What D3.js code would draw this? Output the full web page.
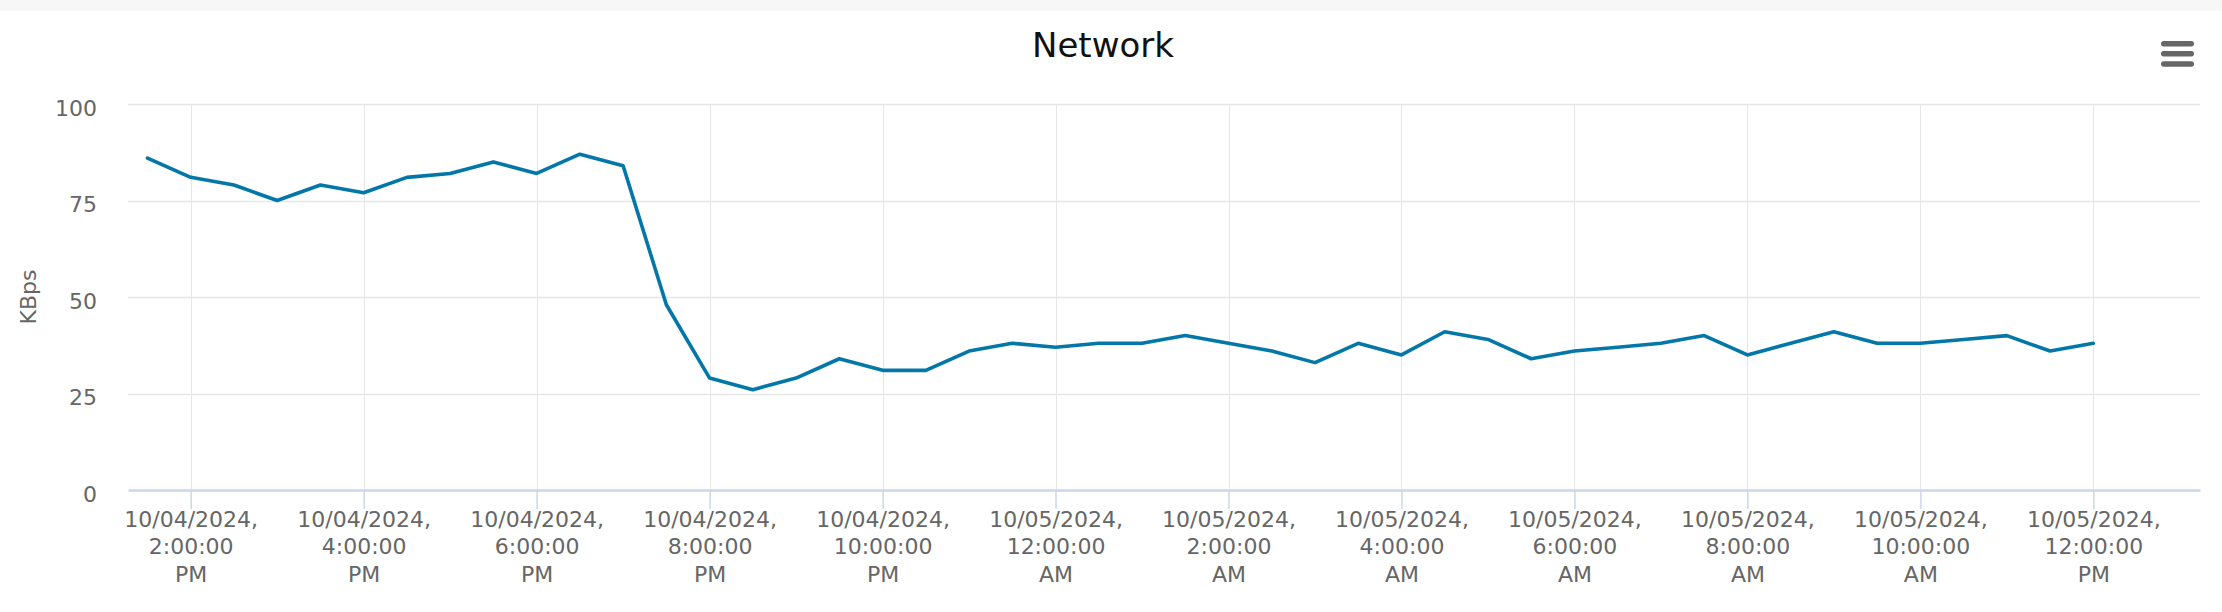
<!DOCTYPE html>
<html>
<head>
<meta charset="utf-8">
<script src="https://cdn.jsdelivr.net/npm/d3@7"></script>
<style>
  html, body { margin: 0; padding: 0; background: #ffffff; }
  svg { display: block; }
  text { font-family: "DejaVu Sans", "Lucida Grande", sans-serif; }
</style>
</head>
<body>
<svg id="chart" width="2222" height="612"></svg>
<script>
// ---- data ----
const chartTitle = "Network";
const yAxisTitle = "KBps";
const times = [
  "2024-10-04T13:30","2024-10-04T14:00","2024-10-04T14:30","2024-10-04T15:00","2024-10-04T15:30",
  "2024-10-04T16:00","2024-10-04T16:30","2024-10-04T17:00","2024-10-04T17:30","2024-10-04T18:00",
  "2024-10-04T18:30","2024-10-04T19:00","2024-10-04T19:30","2024-10-04T20:00","2024-10-04T20:30",
  "2024-10-04T21:00","2024-10-04T21:30","2024-10-04T22:00","2024-10-04T22:30","2024-10-04T23:00",
  "2024-10-04T23:30","2024-10-05T00:00","2024-10-05T00:30","2024-10-05T01:00","2024-10-05T01:30",
  "2024-10-05T02:00","2024-10-05T02:30","2024-10-05T03:00","2024-10-05T03:30","2024-10-05T04:00",
  "2024-10-05T04:30","2024-10-05T05:00","2024-10-05T05:30","2024-10-05T06:00","2024-10-05T06:30",
  "2024-10-05T07:00","2024-10-05T07:30","2024-10-05T08:00","2024-10-05T08:30","2024-10-05T09:00",
  "2024-10-05T09:30","2024-10-05T10:00","2024-10-05T10:30","2024-10-05T11:00","2024-10-05T11:30",
  "2024-10-05T12:00"
];
const kbps = [
  86, 81, 79, 75, 79,
  77, 81, 82, 85, 82,
  87, 84, 48, 29, 26,
  29, 34, 31, 31, 36,
  38, 37, 38, 38, 40,
  38, 36, 33, 38, 35,
  41, 39, 34, 36, 37,
  38, 40, 35, 38, 41,
  38, 38, 39, 40, 36,
  38
];
const xTicks = [
  "2024-10-04T14:00","2024-10-04T16:00","2024-10-04T18:00","2024-10-04T20:00",
  "2024-10-04T22:00","2024-10-05T00:00","2024-10-05T02:00","2024-10-05T04:00",
  "2024-10-05T06:00","2024-10-05T08:00","2024-10-05T10:00","2024-10-05T12:00"
];
const yTicks = [0, 25, 50, 75, 100];
const xExtent = ["2024-10-04T13:16:30", "2024-10-05T13:14:00"];
const yExtent = [0, 100];

// ---- layout ----
const W = 2222, H = 612;
const plot = { left: 128, right: 2200, top: 104, bottom: 490 };
const parse = d3.isoParse;

const svg = d3.select("#chart");

// top band
svg.append("rect").attr("x", 0).attr("y", 0).attr("width", W).attr("height", 10.5).attr("fill", "#f7f7f7");

const x = d3.scaleTime()
  .domain(xExtent.map(s => new Date(s)))
  .range([plot.left, plot.right]);
const y = d3.scaleLinear().domain(yExtent).range([plot.bottom, plot.top]);

const tickDates = xTicks.map(s => new Date(s));

// vertical grid
svg.append("g").selectAll("line").data(tickDates).join("line")
  .attr("x1", d => Math.round(x(d)) + 0.5).attr("x2", d => Math.round(x(d)) + 0.5)
  .attr("y1", plot.top).attr("y2", plot.bottom)
  .attr("stroke", "#e6e6e6").attr("stroke-width", 1);

// horizontal grid
svg.append("g").selectAll("line").data(yTicks.filter(v => v > 0)).join("line")
  .attr("x1", plot.left).attr("x2", plot.right)
  .attr("y1", d => Math.round(y(d)) + 0.5).attr("y2", d => Math.round(y(d)) + 0.5)
  .attr("stroke", "#e6e6e6").attr("stroke-width", 1.5);

// x axis via d3.axisBottom
const fmtDate = d3.timeFormat("%m/%d/%Y,");
const fmtTime = d3.timeFormat("%-I:%M:%S");
const fmtAmPm = d3.timeFormat("%p");
const xAxisG = svg.append("g").attr("transform", `translate(0,${plot.bottom})`)
  .call(d3.axisBottom(x).tickValues(tickDates).tickSize(19).tickSizeOuter(0).tickFormat(""));
xAxisG.select(".domain").attr("stroke", "#ccd6eb").attr("stroke-width", 2.5);
xAxisG.selectAll(".tick line").attr("stroke", "#ccd6eb").attr("stroke-width", 1.5);
xAxisG.selectAll(".tick text").remove();
xAxisG.selectAll(".tick").each(function(d) {
  const t = d3.select(this).append("text")
    .attr("text-anchor", "middle").attr("fill", "#666666")
    .style("font-size", "22px");
  t.append("tspan").attr("x", 0).attr("y", 36.7).text(fmtDate(d));
  t.append("tspan").attr("x", 0).attr("y", 64).text(fmtTime(d));
  t.append("tspan").attr("x", 0).attr("y", 91.7).text(fmtAmPm(d));
});

// y axis labels via d3.axisLeft
const yAxisG = svg.append("g").attr("transform", `translate(${plot.left},0)`)
  .call(d3.axisLeft(y).tickValues(yTicks).tickSize(0).tickPadding(31));
yAxisG.select(".domain").remove();
yAxisG.selectAll(".tick text")
  .attr("fill", "#666666").style("font-size", "22px")
  .attr("dy", "0.5em");

// y axis title
svg.append("text")
  .attr("transform", `translate(36,297) rotate(-90)`)
  .attr("text-anchor", "middle")
  .attr("fill", "#666666")
  .style("font-size", "22px")
  .text(yAxisTitle);

// line
const data = times.map((t, i) => ({ t: parse(t), v: kbps[i] }));
svg.append("path").datum(data)
  .attr("fill", "none")
  .attr("stroke", "#0277a8")
  .attr("stroke-width", 3.6)
  .attr("stroke-linejoin", "round")
  .attr("stroke-linecap", "round")
  .attr("d", d3.line().x(d => x(d.t)).y(d => y(d.v)));

// title
svg.append("text")
  .attr("x", 1103).attr("y", 57.3)
  .attr("text-anchor", "middle")
  .attr("fill", "#111111")
  .style("font-size", "34px")
  .text(chartTitle);

// menu icon
const menu = svg.append("g");
[43.7, 53.7, 64].forEach(cy => {
  menu.append("rect")
    .attr("x", 2161).attr("y", cy - 2.7)
    .attr("width", 33).attr("height", 5.4)
    .attr("rx", 2.7)
    .attr("fill", "#666666");
});
</script>
</body>
</html>
